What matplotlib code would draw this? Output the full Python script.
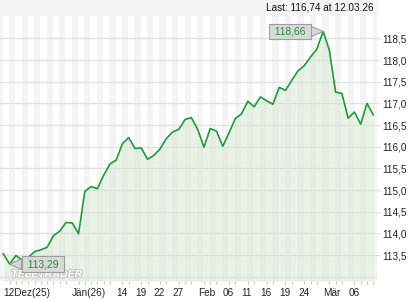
import matplotlib.pyplot as plt
import matplotlib.patheffects as pe
import numpy as np

plt.rcParams['font.family'] = ['Liberation Sans', 'DejaVu Sans']

# trading days, 12.12.2025 - 12.03.2026
dates = ['12.12', '15.12', '16.12', '17.12', '18.12', '19.12', '22.12', '23.12', '29.12', '30.12',
         '02.01', '05.01', '06.01', '07.01', '08.01', '09.01', '12.01', '13.01', '14.01', '15.01',
         '16.01', '19.01', '20.01', '21.01', '22.01', '23.01', '26.01', '27.01', '28.01', '29.01',
         '30.01', '02.02', '03.02', '04.02', '05.02', '06.02', '09.02', '10.02', '11.02', '12.02',
         '13.02', '16.02', '17.02', '18.02', '19.02', '20.02', '23.02', '24.02', '25.02', '26.02',
         '27.02', '02.03', '03.03', '04.03', '05.03', '06.03', '09.03', '10.03', '11.03', '12.03']
prices = [113.53, 113.29, 113.49, 113.38, 113.45, 113.58, 113.62, 113.68, 113.95, 114.05,
          114.25, 114.24, 113.99, 114.97, 115.08, 115.03, 115.34, 115.60, 115.69, 116.07,
          116.21, 115.96, 115.97, 115.71, 115.80, 115.95, 116.19, 116.34, 116.40, 116.63,
          116.67, 116.40, 115.99, 116.42, 116.36, 116.01, 116.32, 116.65, 116.76, 117.05,
          116.92, 117.15, 117.06, 116.98, 117.37, 117.30, 117.53, 117.75, 117.87, 118.07,
          118.25, 118.66, 118.23, 117.26, 117.23, 116.66, 116.80, 116.52, 117.00, 116.74]

xtick_pos = [0, 11, 18, 21, 24, 27, 31, 35, 38, 41, 44, 47, 51, 55]
xtick_labels = ['12Dez(25)', 'Jän(26)', '14', '19', '22', '27', 'Feb', '06', '11', '16',
                '19', '24', 'Mär', '06']
yticks = [113.5, 114.0, 114.5, 115.0, 115.5, 116.0, 116.5, 117.0, 117.5, 118.0, 118.5]
grid_levels = [113.0] + yticks

LINE = '#1f9a3a'
GRID = '#e2e2e2'
STRIPE = '#f4f4f4'

x = np.arange(len(prices))
y = np.array(prices)

fig = plt.figure(figsize=(4.2, 3), dpi=100)
fig.patches.append(plt.Rectangle((0, 1 - 15 / 300), 377 / 420, 15 / 300,
                                 transform=fig.transFigure, color=STRIPE, zorder=0))
ax = fig.add_axes([0, 19 / 300, 377 / 420, 266 / 300])
ax.set_xlim(-0.53, 59.6)
ax.set_ylim(112.90, 119.04)

# day stripes
for i in range(-1, len(prices) + 1):
    if i % 2:
        ax.axvspan(i - 0.1, i + 0.9, color=STRIPE, lw=0, zorder=0)

for g in grid_levels:
    ax.axhline(g, color=GRID, lw=1, zorder=1)

ax.fill_between(x, y, 112.90, color='#d6e6d3', alpha=0.5, lw=0, zorder=2)
ax.plot(x, y, color=LINE, lw=1.2, zorder=3)

# watermark
ax.text(0.03, 0.025, 'TELETRADER', transform=ax.transAxes, fontsize=7.6,
        fontweight='bold', style='italic', color='white', va='center', zorder=4,
        path_effects=[pe.withStroke(linewidth=1.3, foreground='#c2c2c2')])

# min / max boxes
lo, hi = int(np.argmin(y)), int(np.argmax(y))
for idx, dx in [(lo, 24), (hi, -24)]:
    ax.annotate(' ' + f'{y[idx]:.2f}'.replace('.', ',') + ' ', xy=(idx, y[idx]),
                xytext=(dx, 0), textcoords='offset points', ha='center', va='center',
                fontsize=7.4, color='#238a3a', zorder=5,
                bbox=dict(boxstyle='square,pad=0.28', fc='#d9d9d9', ec='#9e9e9e', lw=0.8),
                arrowprops=dict(arrowstyle='wedge,tail_width=1.0', fc='#d9d9d9',
                                ec='#9e9e9e', lw=0.8, shrinkA=0, shrinkB=0))

for s in ax.spines.values():
    s.set_visible(False)

ax.set_xticks(xtick_pos)
ax.set_xticklabels(xtick_labels, ha='left')
ax.set_xticks(x, minor=True)
ax.tick_params(axis='x', which='major', length=0, pad=5, labelsize=7.2, colors='#222222')
ax.tick_params(axis='x', which='minor', length=2.5, color='#c8c8c8', width=0.8)

ax.yaxis.tick_right()
ax.set_yticks(yticks)
ax.set_yticklabels([f'{v:.1f}'.replace('.', ',') for v in yticks])
ax.tick_params(axis='y', length=2.3, pad=1.5, color=GRID, labelsize=7.2,
               labelcolor='#222222')

last = f'{y[-1]:.2f}'.replace('.', ',')
fig.text(374 / 420, 1 - 7.5 / 300, f'Last: {last} at {dates[-1]}.26', ha='right',
         va='center', fontsize=7.2, color='#111111')

fig.savefig('out.png', dpi=100)
